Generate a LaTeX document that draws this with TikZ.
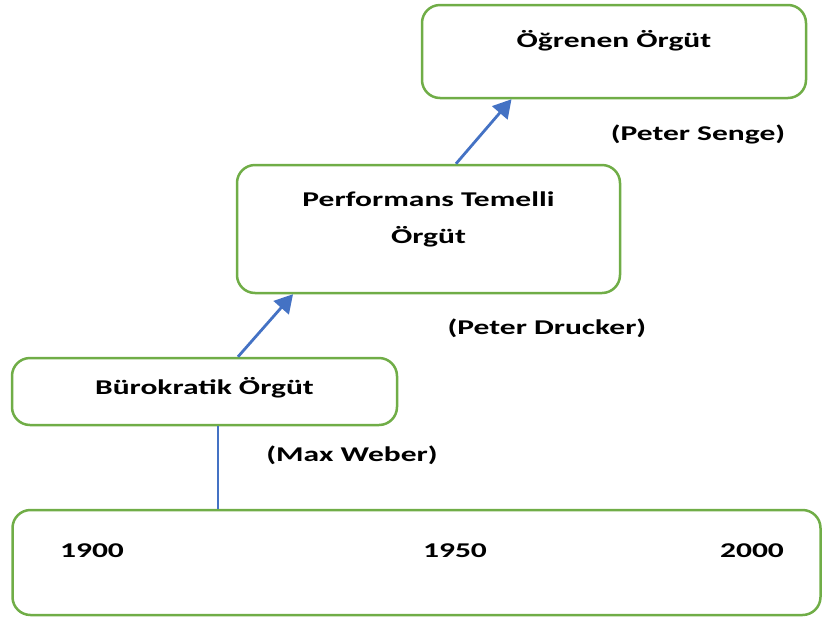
\documentclass[tikz,border=0pt]{standalone}
\usepackage{fontspec}
\setmainfont[FakeStretch=1.5]{Carlito}
\usetikzlibrary{arrows.meta}
\definecolor{boxgreen}{RGB}{112,173,71}
\definecolor{arrowblue}{RGB}{68,114,196}
\begin{document}
\begin{tikzpicture}[x=1pt, y=-1pt,
    font=\fontsize{21}{37}\selectfont\bfseries]
        \useasboundingbox (0,0) rectangle (823,622);
        \begin{scope}[
            orgbox/.style={draw=boxgreen, line width=2.5pt, rounded corners=18pt,
                inner sep=0pt, align=center}]
            \node[orgbox, minimum width=384pt, text height=42pt, text depth=51pt] (ogrenen) at (614, 51.5) {Öğrenen Örgüt};
            \node[orgbox, minimum width=383pt, text height=78pt, text depth=50pt] (performans) at (428.5, 229) {Performans Temelli\\Örgüt};
            \node[orgbox, minimum width=385pt, text height=36pt, text depth=31pt] (burokratik) at (204.5, 391.5) {Bürokratik Örgüt};
            \node[orgbox, minimum width=808pt, minimum height=105pt] (timeline) at (416.5, 562.5) {};
        \end{scope}

        \begin{scope}[
            every node/.style={anchor=base}]
            \node (senge) at (698, 140) {(Peter Senge)};
            \node (drucker) at (547, 334) {(Peter Drucker)};
            \node (weber) at (352, 461) {(Max Weber)};
            \node (y1900) at (92, 557) {1900};
            \node (y1950) at (455, 557) {1950};
            \node (y2000) at (752, 557) {2000};
        \end{scope}

        \begin{scope}[
            every edge/.style={draw=arrowblue, line width=2.8pt}]
            \path [-{Triangle[length=18pt, width=20pt]}] ([xshift=33.5pt]burokratik.north) edge ([xshift=-135.5pt]performans.south);
            \path [-{Triangle[length=18pt, width=20pt]}] ([xshift=27.5pt]performans.north) edge ([xshift=-102.5pt]ogrenen.south);
        \end{scope}

        \draw[arrowblue, line width=1.8pt] ([xshift=13.5pt]burokratik.south) -- ([xshift=13.5pt]burokratik.south |- timeline.north);

        \end{tikzpicture}
\end{document}
